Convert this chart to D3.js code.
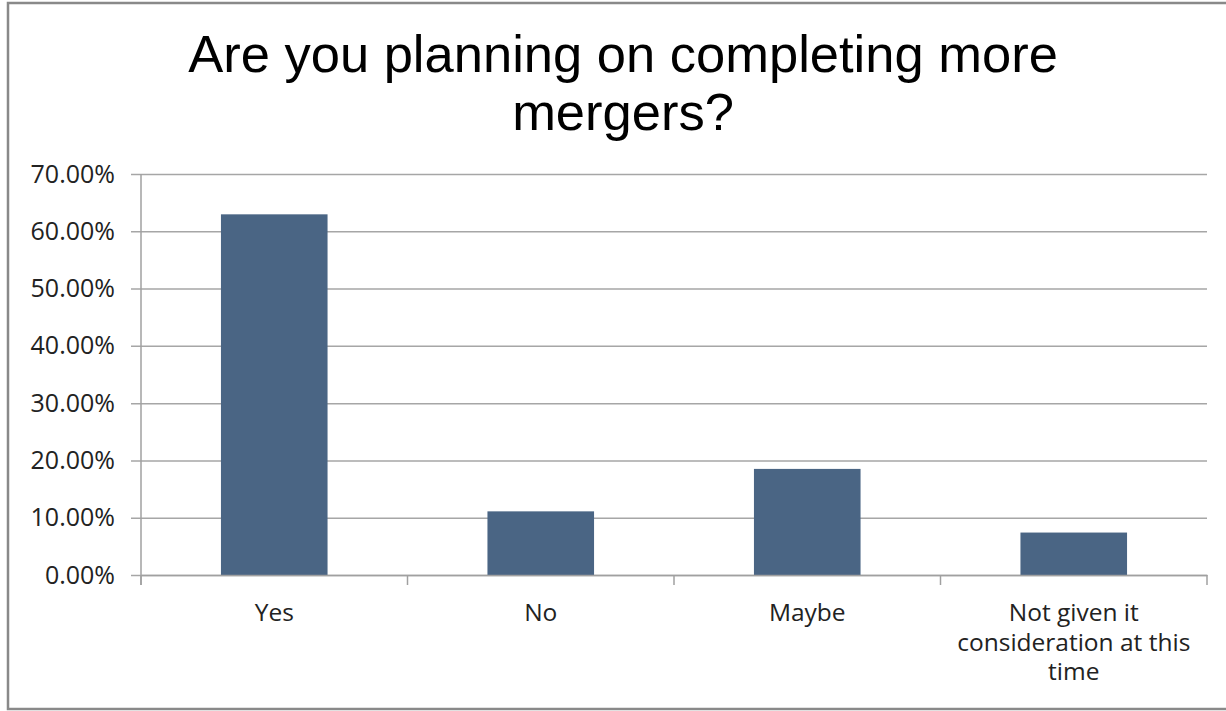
<!DOCTYPE html>
<html>
<head>
<meta charset="utf-8">
<script src="https://cdn.jsdelivr.net/npm/d3@7"></script>
<style>
  body { margin: 0; background: #fff; }
  svg { display: block; }
</style>
</head>
<body>
<div id="chart"></div>
<script>
const categories = ["Yes", "No", "Maybe", "Not given it consideration at this time"];
const values = [0.6296, 0.1111, 0.1852, 0.0741];
const yTicks = [0, 0.1, 0.2, 0.3, 0.4, 0.5, 0.6, 0.7];
const titleLines = ["Are you planning on completing more", "mergers?"];

const width = 1226;
const height = 711;
const margin = { top: 174, right: 19, bottom: 136, left: 141 };
const innerW = width - margin.left - margin.right;
const innerH = height - margin.top - margin.bottom;

const svg = d3.select("#chart")
  .append("svg")
  .attr("width", width)
  .attr("height", height);

// outer chart border
svg.append("rect")
  .attr("x", 8)
  .attr("y", 3)
  .attr("width", width)
  .attr("height", 706)
  .attr("fill", "none")
  .attr("stroke", "#898989")
  .attr("stroke-width", 2.5);

// title
svg.append("text")
  .attr("x", 623)
  .attr("y", 72)
  .attr("text-anchor", "middle")
  .style("font-family", "'Liberation Sans', Arial, sans-serif")
  .style("font-size", "52.5px")
  .style("fill", "#000")
  .selectAll("tspan")
  .data(titleLines)
  .enter()
  .append("tspan")
  .attr("x", 623)
  .attr("dy", (d, i) => i === 0 ? 0 : 58)
  .text(d => d);

const chart = svg.append("g")
  .attr("transform", `translate(${margin.left}, ${margin.top})`);

const x = d3.scaleBand()
  .domain(categories)
  .range([0, innerW])
  .paddingInner(0.6)
  .paddingOuter(0.3);

const xOuter = d3.scaleBand()
  .domain(categories)
  .range([0, innerW]);

const y = d3.scaleLinear()
  .domain([0, 0.7])
  .range([innerH, 0]);

// gridlines + y axis
const yAxis = d3.axisLeft(y)
  .tickValues(yTicks)
  .tickFormat(d3.format(".2%"))
  .tickSize(-innerW - 10)
  .tickPadding(16);

const yg = chart.append("g")
  .attr("transform", "translate(-10,0)")
  .call(yAxis);
yg.select(".domain").remove();
yg.selectAll(".tick line")
  .attr("stroke", "#a6a6a6")
  .attr("stroke-width", 1.5);
yg.selectAll(".tick text")
  .style("font-family", "'Open Sans', sans-serif")
  .style("font-size", "25px")
  .style("fill", "#222");

// y axis line
chart.append("line")
  .attr("x1", 0).attr("x2", 0)
  .attr("y1", 0).attr("y2", innerH + 10)
  .attr("stroke", "#a0a0a0")
  .attr("stroke-width", 1.5);

// bars
chart.selectAll("rect.bar")
  .data(categories)
  .enter()
  .append("rect")
  .attr("class", "bar")
  .attr("x", d => x(d))
  .attr("width", x.bandwidth())
  .attr("y", (d, i) => y(values[i]))
  .attr("height", (d, i) => innerH - y(values[i]))
  .attr("fill", "#4a6584");

// x axis
const xAxis = d3.axisBottom(xOuter)
  .tickSize(0)
  .tickPadding(29);

const xg = chart.append("g")
  .attr("transform", `translate(0, ${innerH})`)
  .call(xAxis);
xg.select(".domain")
  .attr("stroke", "#a0a0a0")
  .attr("stroke-width", 1.5);

// category boundary ticks
xg.selectAll("line.sep")
  .data(d3.range(categories.length + 1))
  .enter()
  .append("line")
  .attr("class", "sep")
  .attr("x1", i => i * xOuter.step())
  .attr("x2", i => i * xOuter.step())
  .attr("y1", 0)
  .attr("y2", 10)
  .attr("stroke", "#a0a0a0")
  .attr("stroke-width", 1.5);

xg.selectAll(".tick text")
  .style("font-family", "'Open Sans', sans-serif")
  .style("font-size", "24.5px")
  .style("fill", "#222")
  .call(wrap, xOuter.bandwidth() - 8);

function wrap(texts, w) {
  texts.each(function () {
    const text = d3.select(this);
    const words = text.text().split(/\s+/);
    const tx = text.attr("x") || 0;
    const ty = +text.attr("y");
    text.text(null);
    let line = [];
    let lineNo = 0;
    let tspan = text.append("tspan").attr("x", tx).attr("y", ty).attr("dy", "0.71em");
    words.forEach(word => {
      line.push(word);
      tspan.text(line.join(" "));
      if (tspan.node().getComputedTextLength() > w && line.length > 1) {
        line.pop();
        tspan.text(line.join(" "));
        line = [word];
        lineNo++;
        tspan = text.append("tspan")
          .attr("x", tx)
          .attr("y", ty + lineNo * 29.5)
          .attr("dy", "0.71em")
          .text(word);
      }
    });
  });
}
</script>
</body>
</html>
